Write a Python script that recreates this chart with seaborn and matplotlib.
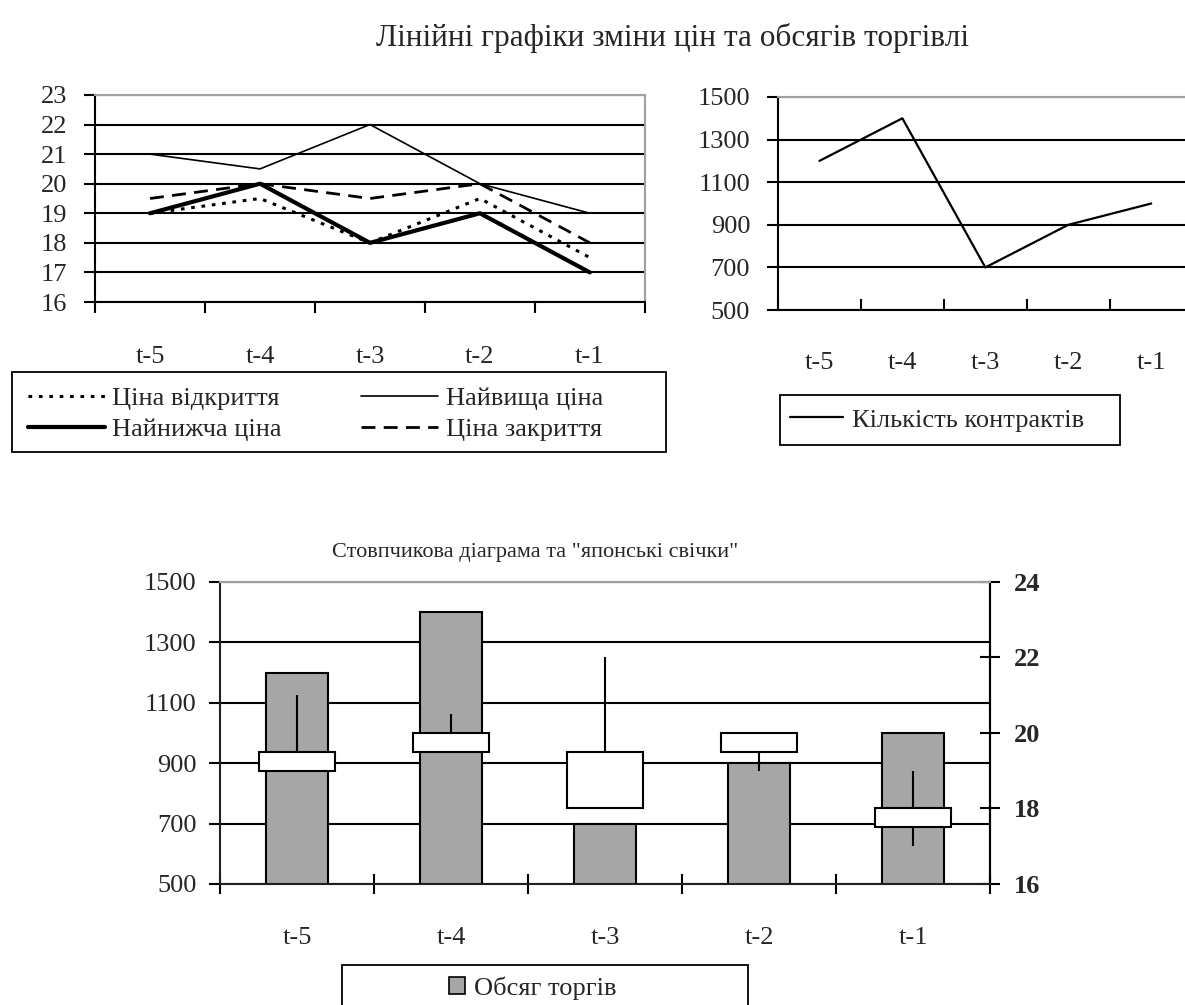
import numpy as np
import pandas as pd
import seaborn as sns
import matplotlib.pyplot as plt
from matplotlib.patches import Patch, Rectangle

# Data
periods = ['t-5', 't-4', 't-3', 't-2', 't-1']
price_open = [19, 19.5, 18, 19.5, 17.5]
price_high = [21, 20.5, 22, 20, 19]
price_low = [19, 20, 18, 19, 17]
price_close = [19.5, 20, 19.5, 20, 18]
contracts = [1200, 1400, 700, 900, 1000]
volume = [1200, 1400, 700, 900, 1000]

labels_prices = ['Ціна відкриття', 'Найвища ціна', 'Найнижча ціна', 'Ціна закриття']

sns.set_theme(style='white')
plt.rcParams['font.family'] = ['Liberation Serif', 'DejaVu Serif']

FS = 19
pos = np.arange(len(periods))
df = pd.DataFrame({'pos': pos, 'period': periods, 'open': price_open, 'high': price_high,
                   'low': price_low, 'close': price_close, 'contracts': contracts, 'volume': volume})

fig = plt.figure(figsize=(11.85, 10.05), dpi=100)


def category_axis(ax, direction, pad, length=8):
    ax.set_xlim(-0.5, len(periods) - 0.5)
    ax.set_xticks(np.arange(len(periods) + 1) - 0.5)
    ax.set_xticklabels([])
    ax.set_xticks(pos, minor=True)
    ax.set_xticklabels(periods, minor=True)
    ax.tick_params(axis='x', which='major', direction=direction, length=length,
                   width=1.5, color='black', bottom=True)
    ax.tick_params(axis='x', which='minor', length=0, pad=pad, labelsize=FS, bottom=True)
    ax.set_xlabel('')
    ax.set_ylabel('')


def frame(ax, right_color='#a0a0a0'):
    for s in ['left', 'bottom']:
        ax.spines[s].set_color('black')
        ax.spines[s].set_linewidth(1.5)
    ax.spines['top'].set_color('#a0a0a0')
    ax.spines['top'].set_linewidth(1.5)
    ax.spines['right'].set_color(right_color)
    ax.spines['right'].set_linewidth(1.5)
    ax.set_axisbelow(True)
    ax.yaxis.grid(True, color='black', linewidth=1.5)
    ax.xaxis.grid(False)


def box(x0, y0, x1, y1):
    # legend frame given in pixel coords of the 1185x1005 picture
    fig.patches.append(Rectangle((x0 / 1185, 1 - y1 / 1005), (x1 - x0) / 1185, (y1 - y0) / 1005,
                                 transform=fig.transFigure, fill=False, edgecolor='black',
                                 linewidth=1.3))


# ---- Top-left: price lines ----
ax1 = fig.add_axes([0.0802, 0.6995, 0.464, 0.206])
styles = {
    'open': dict(linestyle=(0, (1.2, 2.2)), linewidth=2.2),
    'high': dict(linestyle='-', linewidth=1.2),
    'low': dict(linestyle='-', linewidth=3.0),
    'close': dict(linestyle=(0, (5, 3)), linewidth=2.0),
}
for col, lab in zip(['open', 'high', 'low', 'close'], labels_prices):
    sns.lineplot(data=df, x='pos', y=col, color='black', label=lab, ax=ax1, **styles[col])
ax1.set_ylim(16, 23)
ax1.set_yticks(range(16, 24))
ax1.tick_params(axis='y', direction='out', length=8, width=1.5, color='black', left=True,
                labelsize=FS, pad=12)
frame(ax1)
category_axis(ax1, 'out', 32)
h, l = ax1.get_legend_handles_labels()
order = [0, 2, 1, 3]
box(12, 372, 666, 452)
ax1.legend([h[i] for i in order], [l[i] for i in order], loc='center left',
           bbox_to_anchor=(28 / 1185, 1 - 414 / 1005), bbox_transform=fig.transFigure,
           ncol=2, frameon=False, fontsize=FS, handlelength=2.9, borderpad=0,
           labelspacing=0.3, handletextpad=0.3, columnspacing=3.0, borderaxespad=0)

# ---- Top-right: number of contracts ----
ax3 = fig.add_axes([0.6565, 0.6915, 0.350, 0.212])
sns.lineplot(data=df, x='pos', y='contracts', color='black', linewidth=1.6,
             label='Кількість контрактів', ax=ax3)
ax3.set_ylim(500, 1500)
ax3.set_yticks(range(500, 1501, 200))
ax3.tick_params(axis='y', direction='out', length=8, width=1.5, color='black', left=True,
                labelsize=FS, pad=12)
frame(ax3)
category_axis(ax3, 'in', 30)
box(780, 395, 1120, 445)
ax3.legend(loc='center left', bbox_to_anchor=(790 / 1185, 1 - 420 / 1005),
           bbox_transform=fig.transFigure, frameon=False, fontsize=FS, handlelength=2.0,
           borderpad=0, handletextpad=0.35, borderaxespad=0)

# ---- Bottom: volume bars + candlesticks ----
ax = fig.add_axes([0.1857, 0.1204, 0.6498, 0.3005])
sns.barplot(data=df, x='period', y='volume', color='#a6a6a6', saturation=1, edgecolor='black',
            linewidth=1.5, width=0.4, ax=ax, zorder=2)
ax.set_ylim(500, 1500)
ax.set_yticks(range(500, 1501, 200))
ax.tick_params(axis='y', direction='out', length=8, width=1.5, color='black', left=True,
               labelsize=FS, pad=9)
frame(ax, right_color='black')
category_axis(ax, 'inout', 31, length=14)

ax2 = ax.twinx()
body_low = np.minimum(price_open, price_close)
body_h = np.abs(np.array(price_close) - np.array(price_open))
ax2.vlines(pos, price_low, price_high, color='black', linewidth=1.5, zorder=2)
ax2.bar(pos, body_h, bottom=body_low, width=0.49, color='white', edgecolor='black',
        linewidth=1.5, zorder=3)
ax2.set_ylim(16, 24)
ax2.set_yticks(range(16, 25, 2))
ax2.tick_params(axis='y', direction='inout', length=14, width=1.5, color='black', right=True,
                labelsize=FS, pad=10)
for t in ax2.get_yticklabels():
    t.set_fontweight('bold')
ax2.spines['right'].set_color('black')
ax2.spines['right'].set_linewidth(1.5)
ax2.spines['top'].set_color('#a0a0a0')
ax2.spines['top'].set_linewidth(1.5)
ax2.set_ylabel('')
ax2.grid(False)

# bottom legend (framed box wider than content)
box(342, 965, 748, 1015)
fig.legend([Patch(facecolor='#a6a6a6', edgecolor='black', linewidth=1.2)], ['Обсяг торгів'],
           loc='center', bbox_to_anchor=(533 / 1185, 1 - 988 / 1005), frameon=False, fontsize=FS,
           handlelength=0.6, handleheight=0.6, handletextpad=0.35, borderpad=0)

# titles
fig.text(673 / 1185, 1 - 38 / 1005, 'Лінійні графіки зміни цін та обсягів торгівлі',
         ha='center', va='center', fontsize=22.5)
fig.text(535 / 1185, 1 - 553 / 1005, 'Стовпчикова діаграма та "японські свічки"',
         ha='center', va='center', fontsize=16)

fig.savefig('out.png', dpi=100)
